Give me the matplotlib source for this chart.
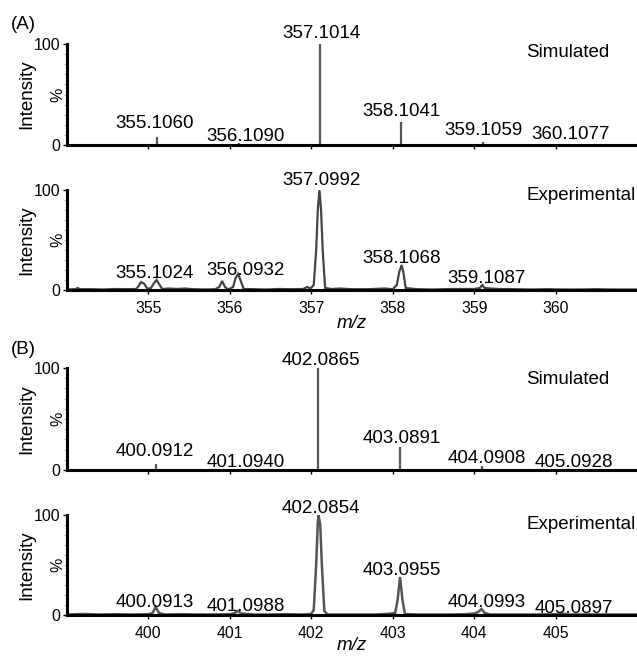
import matplotlib
matplotlib.use('Agg')
import matplotlib.pyplot as plt
from matplotlib.ticker import MultipleLocator

plt.rcParams['font.family'] = ['Liberation Sans', 'DejaVu Sans']

# ---------------- data ----------------
# Panel A, simulated isotope pattern (stick spectrum)
A_sim_mz = [355.1060, 356.1090, 357.1014, 358.1041, 359.1059, 360.1077]
A_sim_int = [8, 2, 100, 23, 3, 1]
A_sim_labels = ["355.1060", "356.1090", "357.1014", "358.1041", "359.1059", "360.1077"]
A_sim_lab_x = [355.08, 356.19, 357.12, 358.11, 359.12, 360.19]
A_sim_lab_y = [17, 4, 106, 29, 10, 6]

# Panel A, experimental profile spectrum
A_exp_mz = [354.00, 354.10, 354.13, 354.16, 354.30, 354.45, 354.60, 354.75, 354.85,
            354.88, 354.91, 354.95, 354.99, 355.03, 355.07, 355.10, 355.13, 355.17,
            355.25, 355.35, 355.45, 355.55, 355.70, 355.82, 355.87, 355.905, 355.94,
            355.98, 356.04, 356.07, 356.10, 356.13, 356.17, 356.30, 356.45, 356.60,
            356.75, 356.90, 356.95, 356.99, 357.03, 357.06, 357.08, 357.10, 357.12,
            357.14, 357.17, 357.25, 357.35, 357.50, 357.70, 357.90, 358.00, 358.05,
            358.08, 358.11, 358.13, 358.16, 358.30, 358.50, 358.70, 358.85, 359.00,
            359.07, 359.10, 359.13, 359.20, 359.30, 359.50, 359.70, 359.90, 360.10,
            360.30, 360.50, 360.70, 361.00]
A_exp_int = [0.5, 0.8, 2.0, 0.8, 0.8, 0.5, 1.0, 0.8, 1.0,
             4, 8, 6, 1, 2, 7, 10, 6, 1,
             1.5, 1.0, 1.5, 0.8, 0.5, 0.8, 3, 9, 3,
             0.5, 3, 12, 16, 10, 1, 0.8, 0.5, 1.0,
             0.8, 1.0, 3, 1.5, 5, 40, 80, 100, 80,
             40, 2, 1, 1.5, 0.8, 0.8, 1.5, 0.8, 5,
             18, 25, 18, 2, 0.8, 0.5, 1.0, 1.0, 1.0,
             2, 5, 2, 1.5, 1.0, 0.8, 0.5, 0.8, 0.5,
             0.5, 0.8, 0.5, 0.5]
A_exp_labels = ["355.1024", "356.0932", "357.0992", "358.1068", "359.1087"]
A_exp_lab_x = [355.08, 356.19, 357.12, 358.11, 359.15]
A_exp_lab_y = [12, 15, 105, 27, 7]

# Panel B, simulated
B_sim_mz = [400.0912, 401.0940, 402.0865, 403.0891, 404.0908, 405.0928]
B_sim_int = [6, 1, 100, 23, 4, 1]
B_sim_labels = ["400.0912", "401.0940", "402.0865", "403.0891", "404.0908", "405.0928"]
B_sim_lab_x = [400.08, 401.19, 402.12, 403.11, 404.15, 405.23]
B_sim_lab_y = [14, 3, 103, 26, 7, 3]

# Panel B, experimental profile
B_exp_mz = [399.00, 399.20, 399.40, 399.60, 399.80, 400.00, 400.05, 400.09, 400.13,
            400.20, 400.40, 400.60, 400.80, 401.00, 401.06, 401.10, 401.14, 401.30,
            401.50, 401.70, 401.90, 402.00, 402.03, 402.06, 402.08, 402.09, 402.11,
            402.13, 402.16, 402.20, 402.40, 402.60, 402.80, 402.95, 403.03, 403.06,
            403.09, 403.12, 403.15, 403.30, 403.50, 403.70, 403.90, 404.00, 404.05,
            404.09, 404.13, 404.20, 404.40, 404.60, 404.80, 405.00, 405.08, 405.15,
            405.40, 405.70, 406.00]
B_exp_int = [0.5, 1.0, 0.5, 0.8, 0.5, 0.8, 2, 8, 2,
             0.5, 0.8, 0.5, 0.5, 0.8, 2, 4, 1.5, 0.5,
             0.5, 0.8, 0.5, 1, 5, 50, 92, 100, 90,
             50, 4, 0.5, 0.5, 0.5, 0.5, 1.2, 2, 15,
             38, 15, 1, 0.5, 0.5, 0.5, 0.8, 1.5, 3,
             6, 2, 0.5, 0.5, 0.5, 0.5, 0.8, 1.5, 0.5,
             0.5, 0.5, 0.5]
B_exp_labels = ["400.0913", "401.0988", "402.0854", "403.0955", "404.0993", "405.0897"]
B_exp_lab_x = [400.08, 401.19, 402.12, 403.11, 404.15, 405.23]
B_exp_lab_y = [8, 4, 102, 40, 8, 2]

A_xlim = (354.0, 361.0)
B_xlim = (399.0, 406.0)
A_ticks = [355, 356, 357, 358, 359, 360]
B_ticks = [400, 401, 402, 403, 404, 405]

# ---------------- figure ----------------
W, H = 637, 658
fig = plt.figure(figsize=(W / 100, H / 100), dpi=100)


def make_axes(top, bottom):
    return fig.add_axes([67 / W, 1 - bottom / H, 1 - 67 / W, (bottom - top) / H])


def style(ax, xlim, ticks, show_labels, name, name_y):
    ax.set_xlim(*xlim)
    ax.set_ylim(0, 100)
    for s in ['top', 'right']:
        ax.spines[s].set_visible(False)
    for s in ['left', 'bottom']:
        ax.spines[s].set_linewidth(2.2)
        ax.spines[s].set_color('black')
    ax.set_xticks(ticks)
    ax.set_yticks([0, 100])
    ax.yaxis.set_minor_locator(MultipleLocator(10))
    ax.tick_params(axis='x', direction='out', length=3, width=1, labelsize=11.3,
                   pad=5, labelbottom=show_labels)
    ax.tick_params(axis='y', which='major', direction='out', length=3, width=1,
                   labelsize=11.5, pad=1.5)
    ax.tick_params(axis='y', which='minor', direction='out', length=1.5, width=0.8)
    ax.text(-0.016, 0.5, '%', rotation=90, transform=ax.transAxes, ha='center',
            va='center', fontsize=11.5)
    ax.text(0.806, name_y, name, transform=ax.transAxes, ha='left', va='baseline',
            fontsize=13.5)
    ax.set_facecolor('none')


def put_labels(ax, labels, xs, ys):
    for t, x, y in zip(labels, xs, ys):
        ax.text(x, y, t, ha='center', va='baseline', fontsize=13.5, clip_on=False)


# Panel A simulated
ax1 = make_axes(44, 145)
ax1.vlines(A_sim_mz, 0, A_sim_int, color='#555555', lw=1.6)
style(ax1, A_xlim, A_ticks, False, 'Simulated', 0.871)
put_labels(ax1, A_sim_labels, A_sim_lab_x, A_sim_lab_y)

# Panel A experimental
ax2 = make_axes(190, 290)
ax2.plot(A_exp_mz, A_exp_int, color='#444444', lw=1.6, solid_joinstyle='miter')
style(ax2, A_xlim, A_ticks, True, 'Experimental', 0.90)
put_labels(ax2, A_exp_labels, A_exp_lab_x, A_exp_lab_y)

# Panel B simulated
ax3 = make_axes(368, 470)
ax3.vlines(B_sim_mz, 0, B_sim_int, color='#555555', lw=1.6)
style(ax3, B_xlim, B_ticks, False, 'Simulated', 0.843)
put_labels(ax3, B_sim_labels, B_sim_lab_x, B_sim_lab_y)

# Panel B experimental
ax4 = make_axes(515, 615)
ax4.plot(B_exp_mz, B_exp_int, color='#555555', lw=1.8, solid_joinstyle='miter')
style(ax4, B_xlim, B_ticks, True, 'Experimental', 0.86)
put_labels(ax4, B_exp_labels, B_exp_lab_x, B_exp_lab_y)

# figure-level texts
for yc in [(44 + 145) / 2, (190 + 290) / 2, (368 + 470) / 2, (515 + 615) / 2]:
    fig.text(27 / W, 1 - yc / H, 'Intensity', rotation=90, ha='center', va='center',
             fontsize=13.5)
fig.text(352 / W, 1 - 323 / H, 'm/z', style='italic', ha='center', va='center',
         fontsize=13.5)
fig.text(352 / W, 1 - 645 / H, 'm/z', style='italic', ha='center', va='center',
         fontsize=13.5)
fig.text(11 / W, 1 - 29 / H, '(A)', ha='left', va='baseline', fontsize=13.5)
fig.text(11 / W, 1 - 354 / H, '(B)', ha='left', va='baseline', fontsize=13.5)

fig.savefig('out.png', dpi=100, facecolor='white')
